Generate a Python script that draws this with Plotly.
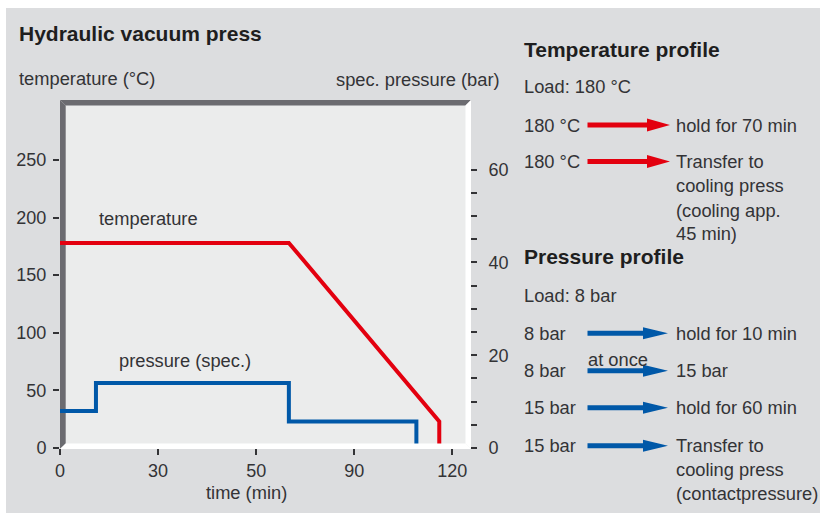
import plotly.graph_objects as go

# ---------------- data ----------------
temp_time = [0, 70, 116, 116]
temp_value = [178, 178, 23, 0]

pres_time = [0, 11, 11, 70, 70, 109, 109]
pres_value = [8, 8, 14, 14, 5.7, 5.7, 0]

x_tickvals = [0, 30, 60, 90, 120]
x_ticktext = ["0", "30", "50", "90", "120"]
y_tickvals = [0, 50, 100, 150, 200, 250]
y2_tickvals = [0, 20, 40, 60]
y2_minor = [5, 10, 15, 25, 30, 35, 45, 50, 55]

# ---------------- style ----------------
W, H = 820, 513
L, R, T, B = 60, 350, 100, 65
PW, PH = W - L - R, H - T - B
FONT = "Liberation Sans"
TXT = "#333336"
RED = "#E3000F"
BLUE = "#0058A8"
PANEL = "#DCDDDF"
PLOTBG = "#EBECEC"
BAR = "#6B6B70"
FS = 18.3
FB = 21


def px(x):
    return (x - L) / PW


def py(y):
    return (H - B - y) / PH


def poly(points, color, layer="above"):
    path = "M " + " L ".join(f"{px(x):.5f},{py(y):.5f}" for x, y in points) + " Z"
    return dict(type="path", xref="paper", yref="paper", path=path,
                fillcolor=color, line=dict(width=0), layer=layer)


def arrow(x0, x1, yc, head_len, head_h, shaft_h, color):
    hb = x1 - head_len
    pts = [(x0, yc - shaft_h / 2), (hb, yc - shaft_h / 2), (hb, yc - head_h / 2),
           (x1, yc), (hb, yc + head_h / 2), (hb, yc + shaft_h / 2), (x0, yc + shaft_h / 2)]
    return poly(pts, color)


fig = go.Figure()
fig.add_trace(go.Scatter(x=temp_time, y=temp_value, mode="lines",
                         line=dict(color=RED, width=4), yaxis="y", cliponaxis=False,
                         hoverinfo="skip"))
fig.add_trace(go.Scatter(x=pres_time, y=pres_value, mode="lines",
                         line=dict(color=BLUE, width=4), yaxis="y2", cliponaxis=False,
                         hoverinfo="skip"))

shapes = [
    # white outer border strips
    dict(type="rect", xref="paper", yref="paper", x0=px(0), x1=px(W), y0=py(0), y1=py(8),
         fillcolor="white", line=dict(width=0), layer="below"),
    dict(type="rect", xref="paper", yref="paper", x0=px(0), x1=px(6), y0=py(0), y1=py(H),
         fillcolor="white", line=dict(width=0), layer="below"),
    # left thick bar and top bar
    poly([(60, 100), (65.7, 105.5), (65.7, 443.5), (60, 449)], BAR, layer="below"),
    poly([(60, 100), (471, 100), (465.5, 105.5), (65.7, 105.5)], BAR, layer="below"),
    # white right edge and floor
    poly([(465.5, 105.5), (471, 100), (471, 449), (465.5, 443.5)], "white"),
    poly([(60, 449), (65.7, 443.5), (465.5, 443.5), (471, 449)], "white"),
]

# arrows (right panel)
for yc in [125, 161.5]:
    shapes.append(arrow(587.5, 670, yc, 23, 13, 5, RED))
for yc in [333.3, 370.7, 407.7, 445.7]:
    shapes.append(arrow(587.5, 668, yc, 25, 12, 5, BLUE))

ann = []


def text(x, y, s, size=FS, bold=False, xanchor="left", color=TXT):
    ann.append(dict(xref="paper", yref="paper", x=px(x), y=py(y), text=(f"<b>{s}</b>" if bold else s),
                    showarrow=False, xanchor=xanchor, yanchor="middle",
                    font=dict(family=FONT, size=size, color=color)))


text(17, 33.3, "Hydraulic vacuum press", size=FB, bold=True, color="#1e1e20")
text(17, 78.5, "temperature (°C)")
text(502, 79.5, "spec. pressure (bar)", xanchor="right")
text(246.5, 492.5, "time (min)", xanchor="center")

# curve labels in data coordinates
ann.append(dict(x=11.3, y=199, xref="x", yref="y", text="temperature", showarrow=False,
                xanchor="left", yanchor="middle", font=dict(family=FONT, size=FS, color=TXT)))
ann.append(dict(x=17.4, y=76, xref="x", yref="y", text="pressure (spec.)", showarrow=False,
                xanchor="left", yanchor="middle", font=dict(family=FONT, size=FS, color=TXT)))

# right panel text
text(522, 49.3, "Temperature profile", size=FB, bold=True, color="#1e1e20")
text(522, 86.7, "Load: 180 °C")
text(522, 125, "180 °C")
text(674, 125, "hold for 70 min")
text(522, 161.7, "180 °C")
text(674, 161.7, "Transfer to")
text(674, 185.8, "cooling press")
text(674, 210, "(cooling app.")
text(674, 233.5, "45 min)")

text(522, 256.7, "Pressure profile", size=FB, bold=True, color="#1e1e20")
text(522, 295, "Load: 8 bar")
text(522, 333.3, "8 bar")
text(674, 333.3, "hold for 10 min")
text(586, 359.5, "at once")
text(522, 370.7, "8 bar")
text(674, 370.7, "15 bar")
text(522, 407.7, "15 bar")
text(674, 407.7, "hold for 60 min")
text(522, 445.7, "15 bar")
text(674, 445.7, "Transfer to")
text(674, 469.5, "cooling press")
text(674, 493.5, "(contactpressure)")

tickfont = dict(family=FONT, size=18, color=TXT)
fig.update_layout(
    width=W, height=H,
    margin=dict(l=L, r=R, t=T, b=B, pad=0),
    paper_bgcolor=PANEL, plot_bgcolor=PLOTBG,
    showlegend=False,
    font=dict(family=FONT, color=TXT),
    xaxis=dict(range=[0, 125.4], tickvals=x_tickvals, ticktext=x_ticktext,
               ticks="outside", ticklen=6, tickwidth=1.5, tickcolor=TXT,
               showgrid=False, zeroline=False, showline=False, tickfont=tickfont,
               fixedrange=True),
    yaxis=dict(range=[0, 302], tickvals=y_tickvals, ticks="outside", ticklen=6,
               tickwidth=1.5, tickcolor=TXT, showgrid=False, zeroline=False,
               showline=False, tickfont=tickfont, ticklabelstandoff=3, fixedrange=True),
    yaxis2=dict(range=[0, 75], overlaying="y", side="right", anchor="x",
                tickvals=y2_tickvals, ticks="outside", ticklen=6, tickwidth=1.5,
                tickcolor=TXT, showgrid=False, zeroline=False, showline=False,
                tickfont=tickfont, ticklabelstandoff=8, fixedrange=True,
                minor=dict(tickvals=y2_minor, ticks="outside", ticklen=6, tickwidth=1.5,
                           tickcolor=TXT, showgrid=False)),
    shapes=shapes,
    annotations=ann,
)

fig.write_html("out.html", config={"displayModeBar": False},
               post_script="document.body.style.margin='0';document.body.style.padding='0';")
